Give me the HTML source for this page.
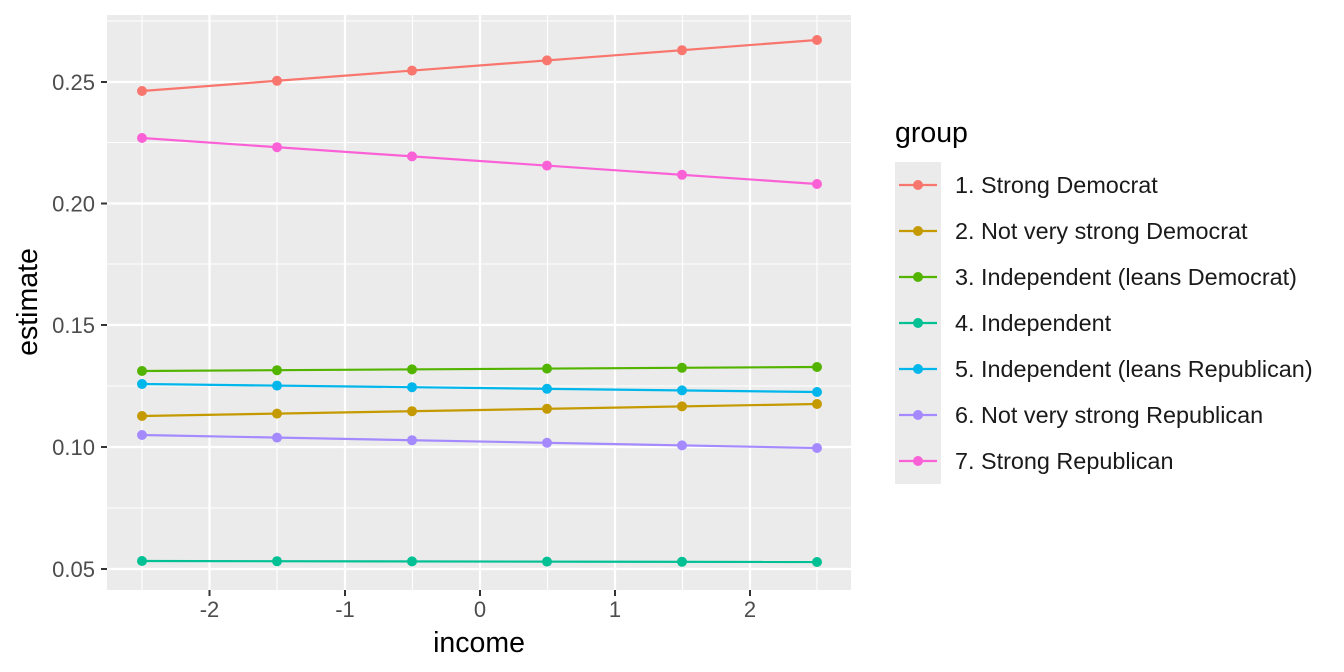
<!DOCTYPE html>
<html><head><style>body{margin:0;background:#fff}svg{display:block}text{font-family:"Liberation Sans",Arial,sans-serif}</style></head><body>
<svg width="1344" height="672" xmlns="http://www.w3.org/2000/svg">
<rect x="107" y="15" width="744" height="575" fill="#ebebeb"/>
<g stroke="#fff" stroke-width="1.1">
<line x1="107" x2="851" y1="21" y2="21"/><line x1="107" x2="851" y1="142.5" y2="142.5"/><line x1="107" x2="851" y1="264" y2="264"/><line x1="107" x2="851" y1="386" y2="386"/><line x1="107" x2="851" y1="508" y2="508"/>
<line y1="15" y2="590" x1="142" x2="142"/><line y1="15" y2="590" x1="277" x2="277"/><line y1="15" y2="590" x1="412.5" x2="412.5"/><line y1="15" y2="590" x1="547.5" x2="547.5"/><line y1="15" y2="590" x1="682.5" x2="682.5"/><line y1="15" y2="590" x1="817" x2="817"/>
</g>
<g stroke="#fff" stroke-width="2.2">
<line x1="107" x2="851" y1="82" y2="82"/><line x1="107" x2="851" y1="203.5" y2="203.5"/><line x1="107" x2="851" y1="325" y2="325"/><line x1="107" x2="851" y1="447" y2="447"/><line x1="107" x2="851" y1="569" y2="569"/>
<line y1="15" y2="590" x1="209.5" x2="209.5"/><line y1="15" y2="590" x1="345" x2="345"/><line y1="15" y2="590" x1="480" x2="480"/><line y1="15" y2="590" x1="615" x2="615"/><line y1="15" y2="590" x1="750" x2="750"/>
</g>
<g stroke="#333" stroke-width="2">
<line x1="101" x2="107" y1="82" y2="82"/><line x1="101" x2="107" y1="203.5" y2="203.5"/><line x1="101" x2="107" y1="325" y2="325"/><line x1="101" x2="107" y1="447" y2="447"/><line x1="101" x2="107" y1="569" y2="569"/>
<line y1="590" y2="596" x1="209.5" x2="209.5"/><line y1="590" y2="596" x1="345" x2="345"/><line y1="590" y2="596" x1="480" x2="480"/><line y1="590" y2="596" x1="615" x2="615"/><line y1="590" y2="596" x1="750" x2="750"/>
</g>
<g font-size="22" fill="#4d4d4d" text-anchor="end">
<text x="95" y="90">0.25</text><text x="95" y="211.5">0.20</text><text x="95" y="333">0.15</text><text x="95" y="455">0.10</text><text x="95" y="577">0.05</text>
</g>
<g font-size="22" fill="#4d4d4d" text-anchor="middle">
<text x="209.5" y="617">-2</text><text x="345" y="617">-1</text><text x="480" y="617">0</text><text x="615" y="617">1</text><text x="750" y="617">2</text>
</g>
<text x="479" y="652" font-size="28.5" text-anchor="middle">income</text>
<text transform="translate(37,302) rotate(-90)" font-size="28.5" text-anchor="middle">estimate</text>
<g stroke-width="2.2" fill="none">
<polyline stroke="#F8766D" points="142,91 817,40"/>
<polyline stroke="#FB61D7" points="142,138 817,184"/>
<polyline stroke="#53B400" points="142,371 817,367"/>
<polyline stroke="#00B6EB" points="142,384 817,392"/>
<polyline stroke="#C49A00" points="142,416 817,404"/>
<polyline stroke="#A58AFF" points="142,435 817,448"/>
<polyline stroke="#00C094" points="142,561 817,562"/>
</g>
<g fill="#F8766D"><circle cx="142" cy="91" r="5"/><circle cx="277" cy="80.8" r="5"/><circle cx="412" cy="70.6" r="5"/><circle cx="547" cy="60.4" r="5"/><circle cx="682" cy="50.2" r="5"/><circle cx="817" cy="40" r="5"/></g>
<g fill="#FB61D7"><circle cx="142" cy="138" r="5"/><circle cx="277" cy="147.2" r="5"/><circle cx="412" cy="156.4" r="5"/><circle cx="547" cy="165.6" r="5"/><circle cx="682" cy="174.8" r="5"/><circle cx="817" cy="184" r="5"/></g>
<g fill="#53B400"><circle cx="142" cy="371" r="5"/><circle cx="277" cy="370.2" r="5"/><circle cx="412" cy="369.4" r="5"/><circle cx="547" cy="368.6" r="5"/><circle cx="682" cy="367.8" r="5"/><circle cx="817" cy="367" r="5"/></g>
<g fill="#00B6EB"><circle cx="142" cy="384" r="5"/><circle cx="277" cy="385.6" r="5"/><circle cx="412" cy="387.2" r="5"/><circle cx="547" cy="388.8" r="5"/><circle cx="682" cy="390.4" r="5"/><circle cx="817" cy="392" r="5"/></g>
<g fill="#C49A00"><circle cx="142" cy="416" r="5"/><circle cx="277" cy="413.6" r="5"/><circle cx="412" cy="411.2" r="5"/><circle cx="547" cy="408.8" r="5"/><circle cx="682" cy="406.4" r="5"/><circle cx="817" cy="404" r="5"/></g>
<g fill="#A58AFF"><circle cx="142" cy="435" r="5"/><circle cx="277" cy="437.6" r="5"/><circle cx="412" cy="440.2" r="5"/><circle cx="547" cy="442.8" r="5"/><circle cx="682" cy="445.4" r="5"/><circle cx="817" cy="448" r="5"/></g>
<g fill="#00C094"><circle cx="142" cy="561" r="5"/><circle cx="277" cy="561.2" r="5"/><circle cx="412" cy="561.4" r="5"/><circle cx="547" cy="561.6" r="5"/><circle cx="682" cy="561.8" r="5"/><circle cx="817" cy="562" r="5"/></g>
<text x="895" y="142" font-size="28.5">group</text>
<rect x="895" y="162" width="46" height="322" fill="#ebebeb"/>
<g font-size="23.4" fill="#1a1a1a">
<g stroke-width="2.2"><line x1="899" x2="937" y1="185" y2="185" stroke="#F8766D"/><line x1="899" x2="937" y1="231" y2="231" stroke="#C49A00"/><line x1="899" x2="937" y1="277" y2="277" stroke="#53B400"/><line x1="899" x2="937" y1="323" y2="323" stroke="#00C094"/><line x1="899" x2="937" y1="369" y2="369" stroke="#00B6EB"/><line x1="899" x2="937" y1="415" y2="415" stroke="#A58AFF"/><line x1="899" x2="937" y1="461" y2="461" stroke="#FB61D7"/></g>
<circle cx="918" cy="185" r="5" fill="#F8766D"/><circle cx="918" cy="231" r="5" fill="#C49A00"/><circle cx="918" cy="277" r="5" fill="#53B400"/><circle cx="918" cy="323" r="5" fill="#00C094"/><circle cx="918" cy="369" r="5" fill="#00B6EB"/><circle cx="918" cy="415" r="5" fill="#A58AFF"/><circle cx="918" cy="461" r="5" fill="#FB61D7"/>
<text x="955" y="193">1. Strong Democrat</text>
<text x="955" y="239">2. Not very strong Democrat</text>
<text x="955" y="285">3. Independent (leans Democrat)</text>
<text x="955" y="331">4. Independent</text>
<text x="955" y="377">5. Independent (leans Republican)</text>
<text x="955" y="423">6. Not very strong Republican</text>
<text x="955" y="469">7. Strong Republican</text>
</g>
</svg>
</body></html>
